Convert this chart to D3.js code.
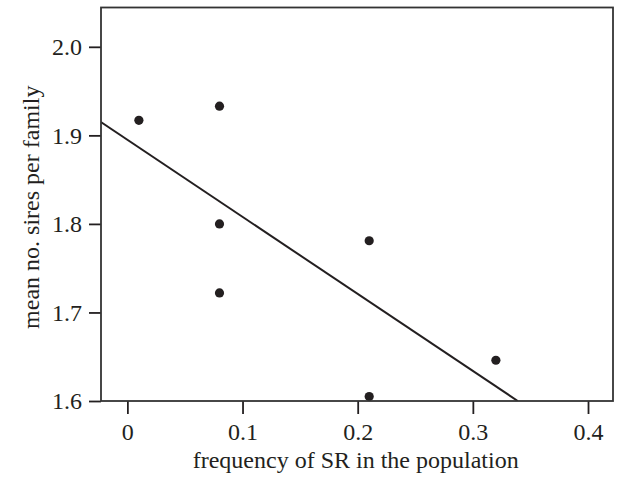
<!DOCTYPE html>
<html>
<head>
<meta charset="utf-8">
<script src="https://cdn.jsdelivr.net/npm/d3@7"></script>
<style>
  body { margin: 0; background: #fff; }
  text { font-family: "Liberation Serif", "DejaVu Serif", serif; fill: #231f20; }
</style>
</head>
<body>
<div id="chart"></div>
<script>
// Data
var srFreq = [0.01, 0.08, 0.08, 0.08, 0.21, 0.21, 0.32];
var meanSires = [1.917, 1.933, 1.800, 1.722, 1.781, 1.605, 1.646];
// Fitted regression line, two end points
var fitX = [-0.023, 0.339];
var fitY = [1.915, 1.600];
var xTicks = [0, 0.1, 0.2, 0.3, 0.4];
var yTicks = [1.6, 1.7, 1.8, 1.9, 2.0];

var svgWidth = 619;
var svgHeight = 477;

var margin = { top: 7.5, right: 6, bottom: 76, left: 101 };
var chartWidth = svgWidth - margin.left - margin.right;
var chartHeight = svgHeight - margin.top - margin.bottom;

var svg = d3.select("#chart")
    .append("svg")
    .attr("width", svgWidth)
    .attr("height", svgHeight);

var chartGroup = svg.append("g")
    .attr("transform", `translate(${margin.left}, ${margin.top})`);

var xScale = d3.scaleLinear()
    .domain([-0.0229, 0.4217])
    .range([0, chartWidth]);

var yScale = d3.scaleLinear()
    .domain([1.6, 2.0444])
    .range([chartHeight, 0]);

// Axes
var bottomAxis = d3.axisBottom(xScale)
    .tickValues(xTicks)
    .tickSize(13)
    .tickPadding(9)
    .tickFormat(d => d === 0 ? "0" : d3.format(".1f")(d));

var leftAxis = d3.axisLeft(yScale)
    .tickValues(yTicks)
    .tickSize(12)
    .tickPadding(7)
    .tickFormat(d3.format(".1f"));

var xAxis = chartGroup.append("g")
    .attr("transform", `translate(0, ${chartHeight})`)
    .call(bottomAxis);

var yAxis = chartGroup.append("g")
    .call(leftAxis);

[xAxis, yAxis].forEach(function(ax) {
    ax.select(".domain").remove();
    ax.selectAll(".tick line").attr("stroke", "#231f20").attr("stroke-width", 1.8);
    ax.selectAll(".tick text")
        .attr("font-size", 24)
        .attr("font-family", "Liberation Serif, serif")
        .attr("fill", "#231f20");
});

// Clip for the fit line
chartGroup.append("clipPath")
    .attr("id", "plotClip")
    .append("rect")
    .attr("width", chartWidth)
    .attr("height", chartHeight);

var fitData = fitX.map((x, i) => ({ x: x, y: fitY[i] }));
var line = d3.line()
    .x(d => xScale(d.x))
    .y(d => yScale(d.y));

chartGroup.append("path")
    .datum(fitData)
    .attr("clip-path", "url(#plotClip)")
    .attr("d", line)
    .attr("fill", "none")
    .attr("stroke", "#231f20")
    .attr("stroke-width", 2);

// Points
var points = srFreq.map((x, i) => ({ x: x, y: meanSires[i] }));
chartGroup.selectAll("circle")
    .data(points)
    .enter()
    .append("circle")
    .attr("cx", d => xScale(d.x))
    .attr("cy", d => yScale(d.y))
    .attr("r", 4.6)
    .attr("fill", "#231f20");

// Frame
chartGroup.append("rect")
    .attr("width", chartWidth)
    .attr("height", chartHeight)
    .attr("fill", "none")
    .attr("stroke", "#333")
    .attr("stroke-width", 1.8);

// Axis titles
svg.append("text")
    .attr("x", margin.left + xScale(0.2) - 2)
    .attr("y", 468)
    .attr("text-anchor", "middle")
    .attr("font-size", 24)
    .text("frequency of SR in the population");

svg.append("text")
    .attr("transform", `translate(39, ${margin.top + chartHeight / 2 + 3}) rotate(-90)`)
    .attr("text-anchor", "middle")
    .attr("font-size", 24)
    .text("mean no. sires per family");
</script>
</body>
</html>
